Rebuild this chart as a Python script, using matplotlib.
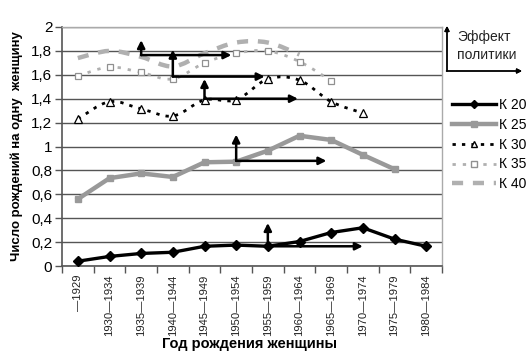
import numpy as np
import matplotlib.pyplot as plt
from matplotlib.path import Path
from matplotlib.patches import PathPatch
from matplotlib.lines import Line2D

plt.rcParams['font.family'] = ['Liberation Sans', 'DejaVu Sans']

cohorts = ['—1929', '1930—1934', '1935—1939', '1940—1944', '1945—1949', '1950—1954',
           '1955—1959', '1960—1964', '1965—1969', '1970—1974', '1975—1979', '1980—1984']

k20 = [0.04, 0.08, 0.105, 0.115, 0.165, 0.175, 0.165, 0.205, 0.28, 0.32, 0.225, 0.165]
k25 = [0.56, 0.735, 0.775, 0.745, 0.868, 0.873, 0.965, 1.09, 1.055, 0.93, 0.81]
k30 = [1.23, 1.375, 1.315, 1.255, 1.39, 1.39, 1.565, 1.555, 1.375, 1.28]
k35 = [1.59, 1.665, 1.62, 1.565, 1.70, 1.78, 1.80, 1.71, 1.55]
k40 = [1.74, 1.80, 1.75, 1.67, 1.78, 1.87, 1.87, 1.77]

# policy effect arrows: (cohort index, level, end index, top of vertical arrow)
eff_start = [2, 3, 4, 5, 6]
eff_level = [1.765, 1.585, 1.40, 0.88, 0.165]
eff_end = [5.35, 6.4, 7.45, 8.35, 9.5]
eff_top = [1.89, 1.81, 1.565, 1.10, 0.36]

fig = plt.figure(figsize=(5.26, 3.61), dpi=100)
ax = fig.add_axes([62 / 526, 1 - 266 / 361, 380 / 526, 239 / 361])


def smooth_path(ys):
    x = np.arange(len(ys)) + 0.5
    pts = np.column_stack([x, ys])
    verts = [pts[0]]
    codes = [Path.MOVETO]
    n = len(pts)
    for i in range(n - 1):
        p0 = pts[max(i - 1, 0)]
        p1 = pts[i]
        p2 = pts[i + 1]
        p3 = pts[min(i + 2, n - 1)]
        verts += [p1 + (p2 - p0) / 6, p2 - (p3 - p1) / 6, p2]
        codes += [Path.CURVE4] * 3
    return Path(verts, codes)


ax.plot(np.arange(len(k20)) + 0.5, k20, color='black', lw=2.4, marker='D', ms=5, zorder=5)
ax.plot(np.arange(len(k25)) + 0.5, k25, color='#999999', lw=3.2, marker='s', ms=5, zorder=5)

ax.add_patch(PathPatch(smooth_path(k30), fill=False, ec='black', lw=2, ls=(0, (1.2, 2.2)), zorder=4))
ax.plot(np.arange(len(k30)) + 0.5, k30, ls='none', marker='^', ms=6, mfc='white', mec='black', mew=0.9, zorder=6)
ax.add_patch(PathPatch(smooth_path(k35), fill=False, ec='#b0b0b0', lw=2, ls=(0, (1.2, 2.5)), zorder=3))
ax.plot(np.arange(len(k35)) + 0.5, k35, ls='none', marker='s', ms=5, mfc='white', mec='#909090', mew=0.9, zorder=6)
ax.add_patch(PathPatch(smooth_path(k40), fill=False, ec='#b0b0b0', lw=3.2, ls=(0, (2.5, 2.2)), zorder=3))

for s, lv, e, t in zip(eff_start, eff_level, eff_end, eff_top):
    xs = s + 0.5
    ax.annotate('', xy=(xs, t), xytext=(xs, lv),
                arrowprops=dict(arrowstyle='-|>', color='black', lw=1.8, mutation_scale=11, shrinkA=0, shrinkB=0), zorder=7)
    ax.annotate('', xy=(e, lv), xytext=(xs, lv),
                arrowprops=dict(arrowstyle='-|>', color='black', lw=1.8, mutation_scale=11, shrinkA=0, shrinkB=0), zorder=7)

ax.set_xlim(0, 12)
ax.set_ylim(0, 2)
ax.set_yticks(np.arange(0, 2.01, 0.2))
ax.set_yticklabels(['0', '0,2', '0,4', '0,6', '0,8', '1', '1,2', '1,4', '1,6', '1,8', '2'], fontsize=11)
ax.set_xticks(np.arange(0, 13))
ax.set_xticklabels([])
ax.set_xticks(np.arange(12) + 0.5, minor=True)
ax.set_xticklabels(cohorts, minor=True, rotation=90, fontsize=8.1, color='#222222')
ax.tick_params(axis='x', which='minor', length=0, pad=6)
ax.tick_params(axis='x', which='major', length=5, width=1, color='#555555')
ax.tick_params(axis='y', length=5, width=1, color='#555555', pad=2)
ax.grid(axis='y', color='#555555', lw=1)
ax.set_axisbelow(True)
for side in ['left', 'bottom']:
    ax.spines[side].set_color('#555555')
    ax.spines[side].set_linewidth(1.2)
for side in ['top', 'right']:
    ax.spines[side].set_color('#aaaaaa')
    ax.spines[side].set_linewidth(1)

ax.set_ylabel('Число рождений на одну  женщину', fontsize=9.5, fontweight='bold', labelpad=6)
fig.text(250 / 526, 1 - 344 / 361, 'Год рождения женщины', ha='center', va='center', fontsize=10.5, fontweight='bold')

# legend for policy effect
fig.add_artist(plt.annotate('', xy=(447 / 526, 1 - 26 / 361), xytext=(447 / 526, 1 - 71 / 361), xycoords='figure fraction',
                            arrowprops=dict(arrowstyle='-|>', color='black', lw=1, mutation_scale=7, shrinkA=0, shrinkB=0)))
fig.add_artist(plt.annotate('', xy=(522 / 526, 1 - 71 / 361), xytext=(446.5 / 526, 1 - 71 / 361), xycoords='figure fraction',
                            arrowprops=dict(arrowstyle='-|>', color='black', lw=1, mutation_scale=7, shrinkA=0, shrinkB=0)))
fig.text(457 / 526, 1 - 37 / 361, 'Эффект', fontsize=10, va='center', color='#222222')
fig.text(457 / 526, 1 - 55 / 361, 'политики', fontsize=10, va='center', color='#222222')

handles = [
    Line2D([], [], color='black', lw=2.4, marker='D', ms=4),
    Line2D([], [], color='#999999', lw=3.2, marker='s', ms=4),
    Line2D([], [], color='black', lw=2, ls=(0, (1.2, 2.2)), marker='^', ms=5, mfc='white', mec='black'),
    Line2D([], [], color='#b0b0b0', lw=2, ls=(0, (1.2, 2.5)), marker='s', ms=4, mfc='white', mec='#909090'),
    Line2D([], [], color='#b0b0b0', lw=3.2, ls=(0, (2.5, 2.2))),
]
fig.legend(handles, ['К 20', 'К 25', 'К 30', 'К 35', 'К 40'], loc='upper left',
           bbox_to_anchor=(452 / 526, 1 - 98 / 361), frameon=False, fontsize=10,
           handlelength=3.2, handletextpad=0.15, labelspacing=0.42, borderpad=0, borderaxespad=0)

fig.savefig('out.png', dpi=100)
